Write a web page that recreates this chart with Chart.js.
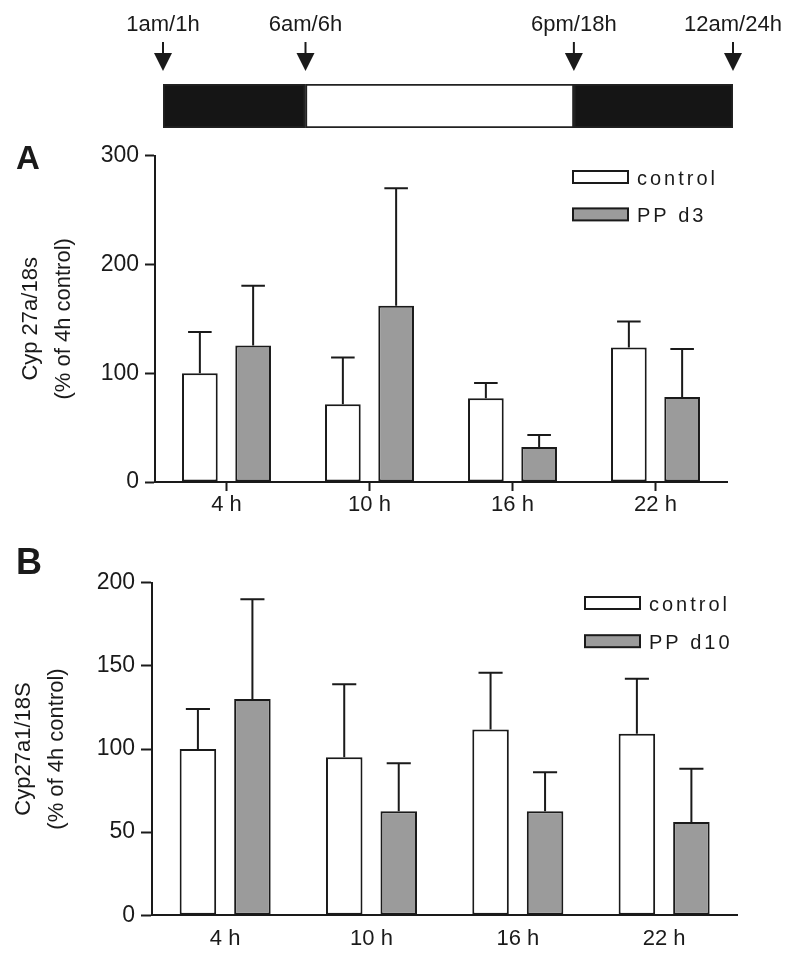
<!DOCTYPE html>
<html>
<head>
<meta charset="utf-8">
<script src="https://cdn.jsdelivr.net/npm/chart.js@4.4.1/dist/chart.umd.min.js"></script>
<style>
  body { margin: 0; background: #fff; width: 800px; height: 955px; position: relative; overflow: hidden;
         font-family: "Liberation Sans", Arial, sans-serif; color: #1a1a1a; }
  canvas { position: absolute; left: 0; }
  #timeline { top: 0; }
  #chartA { top: 130px; }
  #chartB { top: 530px; }
  .tag { position: absolute; font-weight: bold; line-height: 1; color: #1a1a1a; }
</style>
</head>
<body>
<canvas id="timeline" width="800" height="140"></canvas>
<canvas id="chartA" width="800" height="400"></canvas>
<canvas id="chartB" width="800" height="425"></canvas>
<div class="tag" style="left:16px;top:141px;font-size:33px">A</div>
<div class="tag" style="left:16px;top:544px;font-size:36px">B</div>
<script>
// light/dark schematic (positions along the drawn bar, 0-24)
const markLabels = ["1am/1h", "6am/6h", "6pm/18h", "12am/24h"];
const markPos = [0, 6, 17.3, 24];
const phases = [[0, 6], [6, 17.3], [17.3, 24]];

const timepoints = ["4 h", "10 h", "16 h", "22 h"];

// panel A: Cyp 27a/18s
const controlA = [100, 71.5, 77, 123.6];
const controlErrA = [38, 43, 14, 24];
const ppA = [125.4, 162, 32.2, 78.2];
const ppErrA = [55, 108, 11, 44];
const yTicksA = [0, 100, 200, 300];

// panel B: Cyp27a1/18S
const controlB = [100, 95, 111.8, 109.2];
const controlErrB = [24, 44, 34, 33];
const ppB = [130, 62.5, 62.5, 56.1];
const ppErrB = [60, 29, 23.5, 32];
const yTicksB = [0, 50, 100, 150, 200];

const INK = "#1a1a1a";
const GREY = "#9b9b9b";

const arrows = {
  id: "arrows",
  afterDraw(chart) {
    const { ctx } = chart;
    const x = chart.scales.x;
    ctx.save();
    ctx.strokeStyle = INK;
    ctx.fillStyle = INK;
    ctx.lineWidth = 2;
    markPos.forEach((v) => {
      const px = x.getPixelForValue(v);
      ctx.beginPath();
      ctx.moveTo(px, 42);
      ctx.lineTo(px, 56);
      ctx.stroke();
      ctx.beginPath();
      ctx.moveTo(px - 9, 53);
      ctx.lineTo(px + 9, 53);
      ctx.lineTo(px, 71);
      ctx.closePath();
      ctx.fill();
    });
    ctx.restore();
  },
};

new Chart(document.getElementById("timeline"), {
  type: "bar",
  data: {
    labels: ["day"],
    datasets: phases.map((range, i) => ({
      data: [range],
      backgroundColor: i === 1 ? "#ffffff" : "#151515",
      borderColor: "#222",
      borderWidth: 2,
      borderSkipped: false,
      grouped: false,
      barPercentage: 1,
      categoryPercentage: 1,
    })),
  },
  options: {
    indexAxis: "y",
    responsive: false,
    animation: false,
    layout: { padding: { left: 163, right: 67, top: 0, bottom: 12 } },
    plugins: { legend: { display: false }, tooltip: { enabled: false } },
    scales: {
      y: { display: false },
      x: {
        type: "linear",
        position: "top",
        min: 0,
        max: 24,
        afterBuildTicks: (s) => { s.ticks = markPos.map((v) => ({ value: v })); },
        afterFit: (s) => {
          s.height = 84;
          s.paddingLeft = 0;
          s.paddingRight = 0;
        },
        grid: { display: false, drawTicks: false },
        border: { display: false },
        ticks: {
          autoSkip: false,
          maxRotation: 0,
          padding: 46,
          color: INK,
          font: { family: "Liberation Sans", size: 22 },
          callback: (v, i) => markLabels[i],
        },
      },
    },
  },
  plugins: [arrows],
});

const errorBars = {
  id: "errorBars",
  afterDatasetsDraw(chart) {
    const { ctx } = chart;
    const y = chart.scales.y;
    ctx.save();
    ctx.strokeStyle = INK;
    ctx.lineWidth = 2;
    chart.data.datasets.forEach((ds, di) => {
      chart.getDatasetMeta(di).data.forEach((bar, i) => {
        const top = y.getPixelForValue(ds.data[i] + ds.errors[i]);
        const half = bar.width * 0.33;
        ctx.beginPath();
        ctx.moveTo(bar.x, bar.y);
        ctx.lineTo(bar.x, top);
        ctx.moveTo(bar.x - half, top);
        ctx.lineTo(bar.x + half, top);
        ctx.stroke();
      });
    });
    ctx.restore();
  },
};

const boxLegend = {
  id: "boxLegend",
  afterDraw(chart, args, opts) {
    const { ctx } = chart;
    ctx.save();
    ctx.font = "20px 'Liberation Sans'";
    ctx.letterSpacing = "3px";
    ctx.textBaseline = "middle";
    chart.data.datasets.forEach((ds, i) => {
      const cy = opts.y + i * opts.gap;
      ctx.fillStyle = ds.backgroundColor;
      ctx.fillRect(opts.x, cy - 6, 55, 12);
      ctx.strokeStyle = INK;
      ctx.lineWidth = 2;
      ctx.strokeRect(opts.x, cy - 6, 55, 12);
      ctx.fillStyle = INK;
      ctx.fillText(ds.label, opts.x + 64, cy + 2);
    });
    ctx.restore();
  },
};

function panel(id, control, controlErr, pp, ppErr, ppLabel, yMax, yTicks, title, box) {
  return new Chart(document.getElementById(id), {
    type: "bar",
    data: {
      labels: timepoints,
      datasets: [
        { label: "control", data: control, errors: controlErr, backgroundColor: "#ffffff",
          borderColor: INK, borderWidth: 2, borderSkipped: false },
        { label: ppLabel, data: pp, errors: ppErr, backgroundColor: GREY,
          borderColor: INK, borderWidth: 2, borderSkipped: false },
      ],
    },
    options: {
      responsive: false,
      animation: false,
      categoryPercentage: 0.745,
      barPercentage: 0.67,
      layout: { padding: box.padding },
      plugins: {
        legend: { display: false },
        tooltip: { enabled: false },
        boxLegend: box.legend,
      },
      scales: {
        x: {
          afterFit: (s) => { s.height = box.xHeight; },
          grid: {
            display: box.xTicks,
            drawOnChartArea: false,
            drawTicks: box.xTicks,
            offset: false,
            tickLength: 9,
            tickColor: INK,
            tickWidth: 2,
          },
          border: { display: true, color: INK, width: 2 },
          ticks: { color: INK, padding: box.xPad, font: { family: "Liberation Sans", size: 22 } },
        },
        y: {
          min: 0,
          max: yMax,
          afterBuildTicks: (s) => { s.ticks = yTicks.map((v) => ({ value: v })); },
          afterFit: (s) => { s.width = box.yWidth; },
          grid: {
            drawOnChartArea: false,
            tickLength: box.yTick,
            tickColor: INK,
            tickWidth: 2,
          },
          border: { display: true, color: INK, width: 2 },
          ticks: { color: INK, padding: 6, font: { family: "Liberation Sans", size: 23 } },
          title: {
            display: true,
            text: title,
            color: INK,
            font: { family: "Liberation Sans", size: 22, lineHeight: 1.5 },
            padding: { top: box.titlePad, bottom: 0 },
          },
        },
      },
    },
    plugins: [errorBars, boxLegend],
  });
}

panel("chartA", controlA, controlErrA, ppA, ppErrA, "PP d3", 300, yTicksA,
  ["Cyp 27a/18s", "(% of 4h control)"],
  { padding: { top: 25.7, right: 73, bottom: 0, left: 0 }, xHeight: 48, yWidth: 155,
    xTicks: true, xPad: 1, yTick: 10, titlePad: 14.5, legend: { x: 573, y: 47, gap: 37.4 } });

panel("chartB", controlB, controlErrB, ppB, ppErrB, "PP d10", 200, yTicksB,
  ["Cyp27a1/18S", "(% of 4h control)"],
  { padding: { top: 52.7, right: 62.7, bottom: 0, left: 0 }, xHeight: 39.7, yWidth: 152,
    xTicks: false, xPad: 10.5, yTick: 11, titlePad: 7.5, legend: { x: 585, y: 73, gap: 38.2 } });
</script>
</body>
</html>
